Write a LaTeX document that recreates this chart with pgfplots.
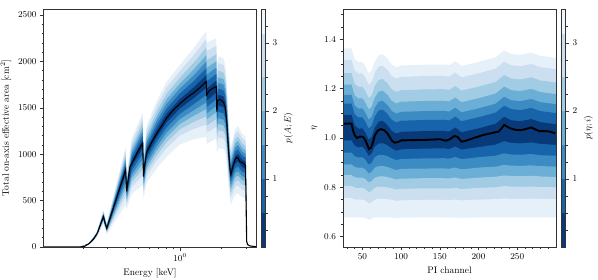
\documentclass[border=0pt]{standalone}
\usepackage{pgfplots}
\pgfplotsset{compat=1.18}
\usepackage{pgfplotstable}

\definecolor{c0}{HTML}{083A7A}
\definecolor{c1}{HTML}{1764AB}
\definecolor{c2}{HTML}{3C8BC3}
\definecolor{c3}{HTML}{6BAED6}
\definecolor{c4}{HTML}{A2CCE3}
\definecolor{c5}{HTML}{CCDFF1}
\definecolor{c6}{HTML}{E6F0F9}
\definecolor{c7}{HTML}{F1F6FC}

\pgfplotstableread{
x m u0 u1 u2 u3 u4 u5 u6 l0 l1 l2 l3 l4 l5 l6
0.19 0 0 0 0 0 0 0 0 0 0 0 0 0 0 0
0.22 35 36 37 38 39 40 42 43 34 33 32 31 29 28 26
0.25 130 133 137 141 145 149 154 158 126 122 118 114 110 105 98
0.280 327 336 346 355 364 375 388 399 317 307 296 286 275 263 245
0.296 201 208 215 222 230 238 247 256 193 184 174 166 157 146 131
0.34 480 497 518 537 555 577 602 625 456 430 404 380 354 324 280
0.405 830 860 895 928 960 998 1040 1080 784 735 686 640 591 534 450
0.412 600 622 647 670 694 721 751 780 576 550 524 500 474 444 400
0.448 900 932 970 1005 1040 1081 1127 1170 860 818 775 735 692 643 570
0.538 1117 1157 1203 1246 1289 1338 1394 1447 1063 1005 946 892 834 766 667
0.545 760 788 820 850 880 914 953 990 730 698 665 635 603 565 510
0.575 1020 1055 1095 1133 1171 1214 1264 1310 980 938 895 855 812 763 690
0.68 1225 1267 1316 1362 1407 1460 1519 1575 1179 1130 1081 1035 986 929 845
0.80 1390 1437 1491 1542 1593 1651 1718 1780 1340 1285 1230 1180 1125 1062 970
1.00 1545 1595 1654 1709 1763 1826 1898 1965 1492 1435 1378 1325 1268 1202 1105
1.25 1660 1718 1785 1847 1910 1982 2063 2140 1600 1535 1470 1410 1345 1270 1160
1.545 1785 1850 1925 1996 2066 2147 2239 2325 1713 1635 1557 1485 1407 1317 1185
1.56 1640 1707 1786 1858 1931 2015 2110 2200 1576 1508 1439 1375 1306 1227 1110
1.83 1730 1792 1865 1933 2000 2078 2167 2250 1663 1590 1517 1450 1377 1293 1170
1.845 1500 1555 1620 1679 1739 1808 1886 1960 1440 1375 1310 1250 1185 1110 1000
1.90 1585 1641 1707 1768 1829 1900 1980 2055 1523 1455 1387 1325 1257 1179 1065
2.06 1565 1621 1687 1748 1809 1880 1960 2035 1504 1438 1371 1310 1244 1167 1055
2.12 1510 1565 1628 1688 1747 1815 1892 1965 1451 1388 1324 1265 1201 1128 1020
2.18 1330 1380 1439 1494 1548 1611 1683 1750 1276 1218 1159 1105 1047 979 880
2.24 1040 1082 1131 1177 1222 1275 1334 1390 993 943 892 845 794 736 650
2.32 780 815 855 893 931 974 1024 1070 740 698 655 615 572 523 450
2.50 940 980 1026 1069 1112 1161 1217 1270 894 845 796 750 701 644 560
2.62 965 1006 1053 1098 1142 1193 1251 1305 918 868 817 770 719 661 575
2.80 905 943 988 1030 1071 1119 1174 1225 861 813 764 720 672 616 535
2.98 880 917 961 1001 1041 1088 1140 1190 838 793 747 705 660 607 530
3.03 50 50 50 50 50 50 50 50 50 50 50 50 50 50 50
}\Lbands

\pgfplotstableread{
x y
0.1034 0
0.15 0
0.19 0
0.205 8
0.22 35
0.237 80
0.255 160
0.268 250
0.280 327
0.287 260
0.296 201
0.405 830
0.412 600
0.425 760
0.435 865
0.448 900
0.48 985
0.51 1060
0.538 1117
0.545 760
0.555 880
0.575 1020
0.62 1120
0.68 1225
0.75 1320
0.80 1390
0.90 1480
1.00 1545
1.12 1610
1.25 1660
1.40 1720
1.545 1785
1.56 1640
1.62 1680
1.72 1710
1.83 1730
1.845 1460
1.86 1580
1.95 1590
2.06 1560
2.12 1510
2.18 1330
2.24 1040
2.30 830
2.33 780
2.40 860
2.48 930
2.57 966
2.62 960
2.71 919
2.78 915
2.87 902
2.97 880
3.03 60
3.08 25
3.20 12
3.40 6
3.567 4
}\Lmed

\pgfplotstableread{
x m u0 u1 u2 u3 u4 u5 u6 l0 l1 l2 l3 l4 l5 l6
25 1.058 1.094 1.139 1.175 1.216 1.263 1.317 1.363 0.990 0.941 0.893 0.850 0.806 0.756 0.678
36 1.058 1.094 1.139 1.175 1.216 1.263 1.317 1.363 0.990 0.941 0.893 0.850 0.806 0.756 0.678
40 1.015 1.051 1.096 1.132 1.173 1.220 1.274 1.320 0.969 0.926 0.883 0.841 0.799 0.751 0.678
45 1.002 1.038 1.083 1.119 1.160 1.207 1.261 1.307 0.962 0.921 0.879 0.839 0.797 0.750 0.678
50 1.003 1.039 1.084 1.120 1.161 1.208 1.262 1.308 0.963 0.922 0.880 0.839 0.798 0.750 0.678
54 0.985 1.021 1.066 1.102 1.143 1.190 1.244 1.290 0.951 0.912 0.872 0.833 0.792 0.746 0.676
58 0.958 0.994 1.039 1.075 1.116 1.163 1.217 1.263 0.927 0.892 0.856 0.820 0.780 0.735 0.668
62 0.968 1.004 1.049 1.085 1.126 1.173 1.227 1.273 0.936 0.899 0.862 0.825 0.785 0.739 0.671
66 1.005 1.041 1.086 1.122 1.163 1.210 1.264 1.310 0.964 0.922 0.880 0.839 0.798 0.750 0.678
71 1.030 1.066 1.111 1.147 1.188 1.235 1.289 1.335 0.977 0.931 0.886 0.844 0.802 0.753 0.678
76 1.034 1.070 1.115 1.151 1.192 1.239 1.293 1.339 0.979 0.932 0.887 0.845 0.802 0.753 0.678
82 1.018 1.054 1.099 1.135 1.176 1.223 1.277 1.323 0.971 0.927 0.883 0.842 0.800 0.752 0.678
88 0.992 1.028 1.073 1.109 1.150 1.197 1.251 1.297 0.957 0.917 0.876 0.837 0.796 0.749 0.678
94 0.982 1.018 1.063 1.099 1.140 1.187 1.241 1.287 0.948 0.910 0.870 0.832 0.791 0.745 0.675
100 0.989 1.025 1.070 1.106 1.147 1.194 1.248 1.294 0.954 0.915 0.875 0.835 0.794 0.747 0.677
130 0.992 1.028 1.073 1.109 1.150 1.197 1.251 1.297 0.957 0.917 0.876 0.837 0.796 0.749 0.678
155 0.993 1.029 1.074 1.110 1.151 1.198 1.252 1.298 0.958 0.918 0.877 0.837 0.796 0.749 0.678
162 0.990 1.026 1.071 1.107 1.148 1.195 1.249 1.295 0.955 0.916 0.875 0.836 0.795 0.748 0.677
170 1.006 1.042 1.087 1.123 1.164 1.211 1.265 1.311 0.965 0.923 0.880 0.840 0.798 0.750 0.678
178 0.987 1.023 1.068 1.104 1.145 1.192 1.246 1.292 0.953 0.914 0.873 0.834 0.793 0.747 0.676
200 1.003 1.039 1.084 1.120 1.161 1.208 1.262 1.308 0.963 0.922 0.880 0.839 0.798 0.750 0.678
222 1.022 1.058 1.103 1.139 1.180 1.227 1.281 1.327 0.973 0.928 0.884 0.843 0.800 0.752 0.678
233 1.050 1.086 1.131 1.167 1.208 1.255 1.309 1.355 0.987 0.938 0.891 0.848 0.805 0.755 0.678
242 1.036 1.072 1.117 1.153 1.194 1.241 1.295 1.341 0.980 0.933 0.888 0.846 0.803 0.753 0.678
254 1.032 1.068 1.113 1.149 1.190 1.237 1.291 1.337 0.978 0.932 0.887 0.845 0.802 0.753 0.678
268 1.041 1.077 1.122 1.158 1.199 1.246 1.300 1.346 0.982 0.935 0.889 0.847 0.803 0.754 0.678
280 1.028 1.064 1.109 1.145 1.186 1.233 1.287 1.333 0.976 0.930 0.886 0.844 0.801 0.753 0.678
300 1.020 1.056 1.101 1.137 1.178 1.225 1.279 1.325 0.972 0.928 0.884 0.842 0.800 0.752 0.678
}\Rbands

\pgfplotstableread{
x y
26 1.058
36 1.058
38 1.030
40 1.012
43 1.000
47 1.006
51 1.004
54 0.990
56 0.975
58.5 0.955
61 0.960
63 0.975
66 1.010
70 1.030
74 1.036
78 1.032
82 1.020
86 1.000
89 0.986
92 0.981
96 0.984
100 0.990
110 0.991
130 0.992
150 0.995
158 0.989
163 0.995
169 1.008
173 1.004
178 0.985
185 0.990
193 0.999
206 1.012
220 1.022
226 1.026
230 1.040
233 1.053
237 1.046
241 1.039
248 1.033
255 1.032
262 1.037
268 1.043
273 1.035
278 1.028
288 1.028
294 1.024
299 1.019
}\Rmed

\pgfplotsset{
  base/.style={
    scale only axis, anchor=south west,
    axis on top,
    tick align=outside,
    major tick length=3.5bp, minor tick length=2bp,
    axis line style={black!80, line width=0.6bp},
    every tick/.append style={black!80, line width=0.6bp},
    tick label style={font=\fontsize{9}{10}\selectfont},
    label style={font=\fontsize{9.5}{11}\selectfont},
  },
  cbar/.style={
    base, width=4.7bp, height=238bp,
    xmin=0, xmax=1, ymin=0, ymax=3.5,
    xtick=\empty, ytick={1,2,3},
    minor ytick={0.25,0.5,...,3.25},
    ytick pos=right, yticklabel pos=right,
  },
  band/.style={draw=none, fill=#1, forget plot},
}

\begin{document}
\begin{tikzpicture}
\useasboundingbox (0,0) rectangle (598bp,280bp);

% ---------- left panel ----------
\begin{axis}[base, at={(43.5bp,33bp)}, width=213bp, height=238bp,
  xmode=log, xmin=0.1034, xmax=3.567, ymin=0, ymax=2565,
  xtick={1}, xticklabels={$10^{0}$},
  minor xtick={0.2,0.3,0.4,0.5,0.6,0.7,0.8,0.9,2,3},
  ytick={0,500,...,2500}, minor ytick={0,100,...,2500},
  scaled y ticks=false,
  yticklabel style={/pgf/number format/1000 sep={}},
  xtick pos=left, ytick pos=left,
  xlabel={Energy [keV]},
  ylabel={Total on-axis effective area [cm$^2$]},
]
\addplot[band=c6] table[x=x, y=u6] {\Lbands} \closedcycle;
\addplot[band=c5] table[x=x, y=u5] {\Lbands} \closedcycle;
\addplot[band=c4] table[x=x, y=u4] {\Lbands} \closedcycle;
\addplot[band=c3] table[x=x, y=u3] {\Lbands} \closedcycle;
\addplot[band=c2] table[x=x, y=u2] {\Lbands} \closedcycle;
\addplot[band=c1] table[x=x, y=u1] {\Lbands} \closedcycle;
\addplot[band=c0] table[x=x, y=u0] {\Lbands} \closedcycle;
\addplot[band=c1] table[x=x, y=l0] {\Lbands} \closedcycle;
\addplot[band=c2] table[x=x, y=l1] {\Lbands} \closedcycle;
\addplot[band=c3] table[x=x, y=l2] {\Lbands} \closedcycle;
\addplot[band=c4] table[x=x, y=l3] {\Lbands} \closedcycle;
\addplot[band=c5] table[x=x, y=l4] {\Lbands} \closedcycle;
\addplot[band=c6] table[x=x, y=l5] {\Lbands} \closedcycle;
\addplot[band=white] table[x=x, y=l6] {\Lbands} \closedcycle;
\addplot[black, line width=1.1bp] table[x=x, y=y] {\Lmed};
\end{axis}

\begin{axis}[cbar, at={(260.8bp,33bp)}, ylabel={$p(A;E)$}]
\addplot[band=c7] coordinates {(0,3.5) (1,3.5)} \closedcycle;
\addplot[band=c5] coordinates {(0,3.13) (1,3.13)} \closedcycle;
\addplot[band=c4] coordinates {(0,2.5) (1,2.5)} \closedcycle;
\addplot[band=c3] coordinates {(0,2.0) (1,2.0)} \closedcycle;
\addplot[band=c2] coordinates {(0,1.5) (1,1.5)} \closedcycle;
\addplot[band=c1] coordinates {(0,1.0) (1,1.0)} \closedcycle;
\addplot[band=c0] coordinates {(0,0.5) (1,0.5)} \closedcycle;
\end{axis}

% ---------- right panel ----------
\begin{axis}[base, at={(343bp,33bp)}, width=213bp, height=238bp,
  xmin=25, xmax=300, ymin=0.558, ymax=1.523,
  xtick={50,100,...,250}, minor xtick={30,40,...,290},
  ytick={0.6,0.8,1.0,1.2,1.4}, minor ytick={0.6,0.65,...,1.5},
  yticklabel style={/pgf/number format/.cd, fixed, fixed zerofill, precision=1},
  xtick pos=left, ytick pos=left,
  xlabel={PI channel},
  ylabel={$\eta$},
]
\addplot[band=c6] table[x=x, y=u6] {\Rbands} \closedcycle;
\addplot[band=c5] table[x=x, y=u5] {\Rbands} \closedcycle;
\addplot[band=c4] table[x=x, y=u4] {\Rbands} \closedcycle;
\addplot[band=c3] table[x=x, y=u3] {\Rbands} \closedcycle;
\addplot[band=c2] table[x=x, y=u2] {\Rbands} \closedcycle;
\addplot[band=c1] table[x=x, y=u1] {\Rbands} \closedcycle;
\addplot[band=c0] table[x=x, y=u0] {\Rbands} \closedcycle;
\addplot[band=c1] table[x=x, y=l0] {\Rbands} \closedcycle;
\addplot[band=c2] table[x=x, y=l1] {\Rbands} \closedcycle;
\addplot[band=c3] table[x=x, y=l2] {\Rbands} \closedcycle;
\addplot[band=c4] table[x=x, y=l3] {\Rbands} \closedcycle;
\addplot[band=c5] table[x=x, y=l4] {\Rbands} \closedcycle;
\addplot[band=c6] table[x=x, y=l5] {\Rbands} \closedcycle;
\addplot[band=white] table[x=x, y=l6] {\Rbands} \closedcycle;
\addplot[black, line width=1.9bp] table[x=x, y=y] {\Rmed};
\end{axis}

\begin{axis}[cbar, at={(560.8bp,33bp)}, ylabel={$p(\eta;i)$}]
\addplot[band=c7] coordinates {(0,3.5) (1,3.5)} \closedcycle;
\addplot[band=c5] coordinates {(0,3.13) (1,3.13)} \closedcycle;
\addplot[band=c4] coordinates {(0,2.5) (1,2.5)} \closedcycle;
\addplot[band=c3] coordinates {(0,2.0) (1,2.0)} \closedcycle;
\addplot[band=c2] coordinates {(0,1.5) (1,1.5)} \closedcycle;
\addplot[band=c1] coordinates {(0,1.0) (1,1.0)} \closedcycle;
\addplot[band=c0] coordinates {(0,0.5) (1,0.5)} \closedcycle;
\end{axis}
\end{tikzpicture}
\end{document}
